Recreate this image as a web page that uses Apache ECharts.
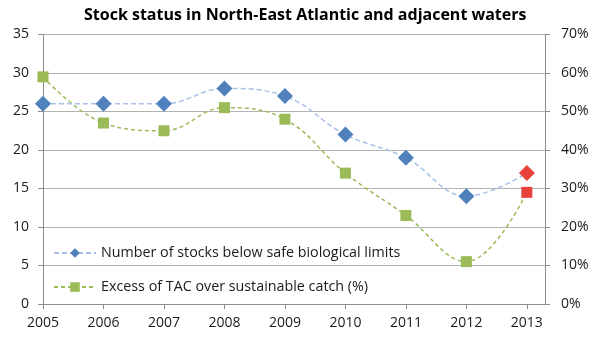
<!DOCTYPE html>
<html>
<head>
<meta charset="utf-8">
<script src="https://cdn.jsdelivr.net/npm/echarts@6/dist/echarts.min.js"></script>
<style>html,body{margin:0;padding:0;background:#fff}#c{width:599px;height:341px}</style>
</head>
<body>
<div id="c"></div>
<script>
const years = [2005, 2006, 2007, 2008, 2009, 2010, 2011, 2012, 2013];
const stocksBelowLimits = [26, 26, 26, 28, 27, 22, 19, 14, 17];
const excessTAC = [59, 47, 45, 51, 48, 34, 23, 11, 29];
const leftTicks = [0, 5, 10, 15, 20, 25, 30, 35];
const rightTicks = [0, 10, 20, 30, 40, 50, 60, 70];
const titleText = 'Stock status in North-East Atlantic and adjacent waters';
const seriesNames = ['Number of stocks below safe biological limits', 'Excess of TAC over sustainable catch (%)'];

const FONT = 'Open Sans';
const lastRed = '#e8423a';
function pts(vals, highlightLast) {
  return years.map((y, i) => {
    const p = {value: [y, vals[i]]};
    if (highlightLast && i === years.length - 1) p.itemStyle = {color: lastRed};
    return p;
  });
}
const chart = echarts.init(document.getElementById('c'));
chart.setOption({
  animation: false,
  backgroundColor: '#fff',
  title: {
    text: titleText, left: 79, top: 2,
    textStyle: {fontFamily: FONT, fontWeight: 'bold', fontSize: 16, color: '#000'}
  },
  grid: {left: 43, right: 54, top: 34.5, bottom: 37, containLabel: false},
  legend: {
    orient: 'vertical', left: 48, top: 241, itemGap: 20,
    itemWidth: 42, itemHeight: 12,
    textStyle: {fontFamily: FONT, fontSize: 14.3, color: '#1a1a1a'},
    data: seriesNames
  },
  xAxis: {
    type: 'value', min: 2005, max: 2013.3,
    axisLine: {show: true, lineStyle: {color: '#8c8c8c'}},
    axisTick: {show: true, length: 5, lineStyle: {color: '#8c8c8c'}, customValues: years},
    axisLabel: {fontFamily: FONT, fontSize: 14, color: '#1a1a1a', margin: 12, customValues: years,
      formatter: v => String(v)},
    splitLine: {show: false}
  },
  yAxis: [{
    type: 'value', min: 0, max: 35, interval: 5, position: 'left',
    axisLine: {show: true, lineStyle: {color: '#8c8c8c'}},
    axisTick: {show: true, length: 5, lineStyle: {color: '#8c8c8c'}},
    axisLabel: {fontFamily: FONT, fontSize: 14, color: '#1a1a1a', margin: 14,
      formatter: v => leftTicks.includes(v) ? String(v) : ''},
    splitLine: {show: true, lineStyle: {color: '#b3b3b3'}}
  }, {
    type: 'value', min: 0, max: 70, interval: 10, position: 'right',
    axisLine: {show: true, lineStyle: {color: '#8c8c8c'}},
    axisTick: {show: true, length: 5, lineStyle: {color: '#8c8c8c'}},
    axisLabel: {fontFamily: FONT, fontSize: 14, color: '#1a1a1a', margin: 16,
      formatter: v => rightTicks.includes(v) ? v + '%' : ''},
    splitLine: {show: false}
  }],
  series: [{
    name: seriesNames[0], type: 'line', yAxisIndex: 0, smooth: 0.4,
    symbol: 'diamond', symbolSize: [16, 16],
    itemStyle: {color: '#4f81bd'},
    lineStyle: {color: '#a9c1e8', width: 1.5, type: [5, 3]},
    data: pts(stocksBelowLimits, true), z: 3
  }, {
    name: seriesNames[1], type: 'line', yAxisIndex: 1, smooth: 0.4,
    symbol: 'rect', symbolSize: [11, 11],
    itemStyle: {color: '#9bbb59'},
    lineStyle: {color: '#9bbb59', width: 1.5, type: [4, 3]},
    data: pts(excessTAC, true), z: 2
  }]
});
</script>
</body>
</html>
